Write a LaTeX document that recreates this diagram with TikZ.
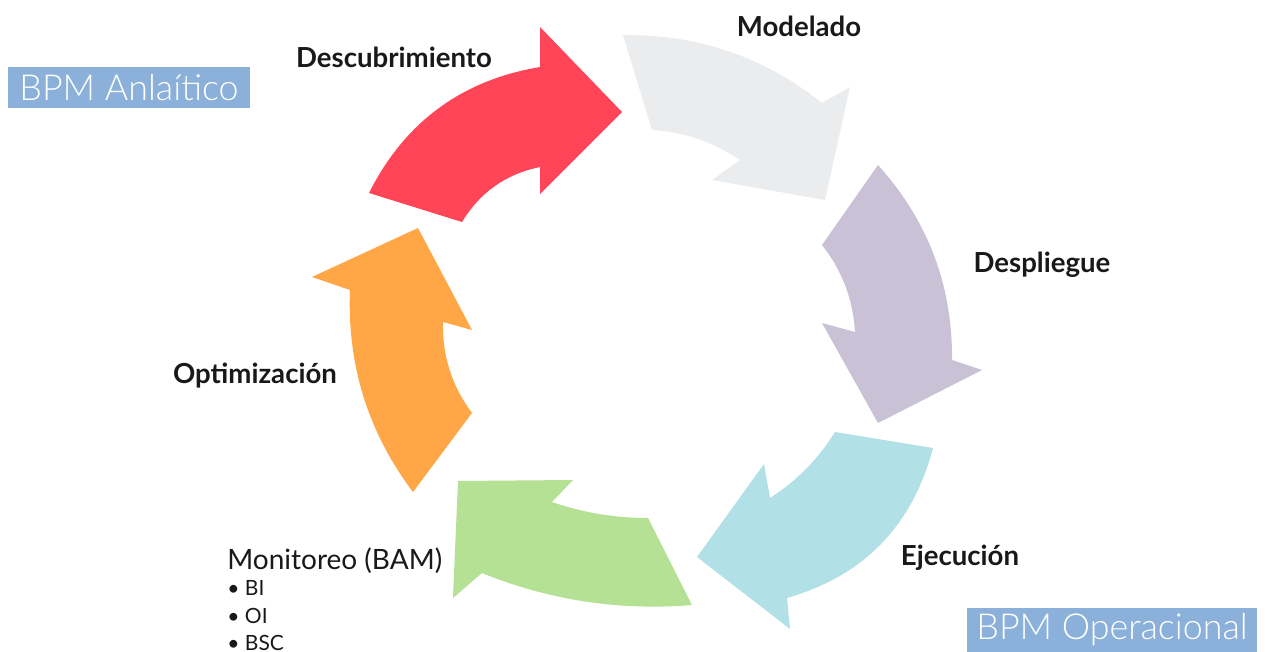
\documentclass[tikz,border=0pt]{standalone}
\usepackage{fontspec}
\setmainfont{Lato}
\newfontfamily\latolight{Lato Light}
\definecolor{cred}{HTML}{FF4557}
\definecolor{cgray}{HTML}{EBECED}
\definecolor{cpurple}{HTML}{C9C1D6}
\definecolor{cblue}{HTML}{B1E0E7}
\definecolor{cgreen}{HTML}{B5E194}
\definecolor{corange}{HTML}{FFA646}
\definecolor{boxblue}{HTML}{8BB0D9}
\begin{document}
\begin{tikzpicture}[x=0.5pt,y=-0.5pt,
  lbl/.style={font=\bfseries\fontsize{13.8}{16}\selectfont, inner sep=0pt, text=black!90},
  bpmbox/.style={fill=boxblue, text=white, inner sep=0pt, font=\latolight\fontsize{17.9}{21}\selectfont},
  small/.style={font=\fontsize{10.5}{12}\selectfont, inner sep=0pt, anchor=base west, text=black!90}]
\useasboundingbox (0,0) rectangle (1265,652);
% Descubrimiento (red)
\fill[cred] (369,193) .. controls (404.7,122.1) and (461.7,80.1) .. (540,67)
  -- (540,27) -- (622,112) -- (540,194) -- (540,167)
  .. controls (506,174) and (480,192.3) .. (462,222) -- cycle;
% Modelado (gray)
\fill[cgray] (623,35) .. controls (698,34.3) and (764.3,57) .. (822,103)
  -- (850,87) -- (825,200) -- (712,180) -- (740,160)
  .. controls (713.3,141.9) and (684,131.9) .. (652,130) -- cycle;
% Despliegue (purple)
\fill[cpurple] (878,165) .. controls (928,220.5) and (952.7,285.5) .. (952,360)
  -- (982,370) -- (878,423) -- (822,323) -- (855,332)
  .. controls (853.1,299.5) and (842.1,270.5) .. (822,245) -- cycle;
% Ejecucion (blue)
\fill[cblue] (933,448) .. controls (912.3,526) and (863.7,576) .. (787,598)
  -- (790,629) -- (697,557) -- (764,464) -- (770,498)
  .. controls (796.7,480.9) and (818.4,458.9) .. (835,432) -- cycle;
% Monitoreo (green)
\fill[cgreen] (692,605) .. controls (619.3,611) and (549.3,600.3) .. (482,573)
  -- (453,598) -- (458,481) -- (573,480) -- (552,502)
  .. controls (583.1,512.7) and (615.1,518) .. (648,518) -- cycle;
% Optimizacion (orange)
\fill[corange] (413,492) .. controls (368,432.3) and (347,364.9) .. (350,290)
  -- (312,277) -- (418,228) -- (472,330) -- (443,322)
  .. controls (442.1,355.4) and (451.8,385.7) .. (472,413) -- cycle;
% labels
\node[lbl] (desc) at (394,57) {Descubrimiento};
\node[lbl] (mod) at (799,26) {Modelado};
\node[lbl] (desp) at (1042,265) {Despliegue};
\node[lbl] (opt) at (255,376) {Optimización};
\node[lbl] (eje) at (960,558) {Ejecución};
\node[font=\fontsize{14}{16}\selectfont, inner sep=0pt, anchor=base west, text=black!90] (mon) at (227,569) {Monitoreo (BAM)};
\node[small] (bi) at (227,596) {• BI};
\node[small] (oi) at (227,623) {• OI};
\node[small] (bsc) at (227,650) {• BSC};
% boxes
\node[bpmbox, minimum width=121pt, minimum height=20.5pt] (ana) at (129,87.5) {BPM Anlaítico};
\node[bpmbox, minimum width=145pt, minimum height=22pt] (ope) at (1112,630) {BPM Operacional};
\end{tikzpicture}
\end{document}
